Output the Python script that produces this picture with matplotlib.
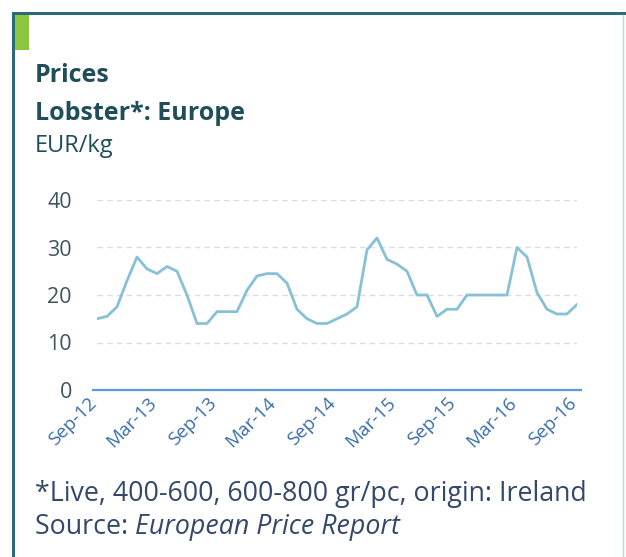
import matplotlib
matplotlib.use("Agg")
import matplotlib.pyplot as plt
import matplotlib.transforms as mtransforms
from matplotlib.patches import Rectangle
from matplotlib.lines import Line2D

# Monthly lobster prices, EUR/kg, Sep-12 .. Sep-16
months = ["Sep-12", "Oct-12", "Nov-12", "Dec-12", "Jan-13", "Feb-13", "Mar-13", "Apr-13",
          "May-13", "Jun-13", "Jul-13", "Aug-13", "Sep-13", "Oct-13", "Nov-13", "Dec-13",
          "Jan-14", "Feb-14", "Mar-14", "Apr-14", "May-14", "Jun-14", "Jul-14", "Aug-14",
          "Sep-14", "Oct-14", "Nov-14", "Dec-14", "Jan-15", "Feb-15", "Mar-15", "Apr-15",
          "May-15", "Jun-15", "Jul-15", "Aug-15", "Sep-15", "Oct-15", "Nov-15", "Dec-15",
          "Jan-16", "Feb-16", "Mar-16", "Apr-16", "May-16", "Jun-16", "Jul-16", "Aug-16",
          "Sep-16"]
prices = [15, 15.5, 17.5, 23, 28, 25.5, 24.5, 26, 25, 20, 14, 14,
          16.5, 16.5, 16.5, 21, 24, 24.5, 24.5, 22.5, 17, 15, 14, 14,
          15, 16, 17.5, 29.5, 32, 27.5, 26.5, 25, 20, 20, 15.5, 17,
          17, 20, 20, 20, 20, 20, 30, 28, 20.5, 17, 16, 16,
          18]
tick_labels = ["Sep-12", "Mar-13", "Sep-13", "Mar-14", "Sep-14",
               "Mar-15", "Sep-15", "Mar-16", "Sep-16"]
y_ticks = [0, 10, 20, 30, 40]

FONT = ["Open Sans", "DejaVu Sans"]
plt.rcParams["font.family"] = FONT

W, H = 626, 557
fig = plt.figure(figsize=(W / 100, H / 100), dpi=100)
fig.patch.set_facecolor("white")

# Panel frame: thick teal left/top edges, thin light right edge, green tab
frame_col = "#2b6a78"
fig.add_artist(Rectangle((12 / W, 0), 3 / W, (H - 12) / H, transform=fig.transFigure,
                         color=frame_col, lw=0))
fig.add_artist(Rectangle((12 / W, (H - 15) / H), (W - 12) / W, 3 / H, transform=fig.transFigure,
                         color=frame_col, lw=0))
fig.add_artist(Line2D([623 / W, 623 / W], [0, (H - 15) / H], transform=fig.transFigure,
                      color="#b9dbe0", lw=1))
fig.add_artist(Rectangle((15 / W, (H - 50) / H), 14 / W, 35 / H, transform=fig.transFigure,
                         color="#8cc63f", lw=0))

# Titles
title_col = "#1f4e5a"
fig.text(35 / W, 1 - 76 / H, "Prices", fontsize=18, fontweight="bold",
         color=title_col, va="center", ha="left")
fig.text(35 / W, 1 - 113 / H, "Lobster*: Europe", fontsize=18, fontweight="bold",
         color=title_col, va="center", ha="left")
fig.text(35 / W, 1 - 146 / H, "EUR/kg", fontsize=17, color=title_col,
         va="center", ha="left")

# Plot area
x0, x1 = 97, 577
y_top, y_bot = 200, 390
ax = fig.add_axes([x0 / W, 1 - y_bot / H, (x1 - x0) / W, (y_bot - y_top) / H])
ax.set_facecolor("none")
ax.set_xlim(0, len(months) - 1)
ax.set_ylim(0, 40)

xs = list(range(len(months)))
for y in y_ticks[1:]:
    ax.axhline(y, color="#dcdcdc", lw=1, ls=(0, (4, 3)), zorder=1)
ax.plot([-0.5, len(months) - 0.5], [0, 0], color="#5b9bd5", lw=1.6, zorder=2,
        clip_on=False, solid_capstyle="butt")
ax.plot(xs, prices, color="#86c1d8", lw=2.0, zorder=3, solid_joinstyle="round")

for s in ax.spines.values():
    s.set_visible(False)

ax.set_yticks(y_ticks)
ax.set_yticklabels([str(v) for v in y_ticks])
ax.tick_params(axis="y", length=0, pad=18, labelsize=15.5, labelcolor="#3e5560")

tick_pos = [months.index(m) for m in tick_labels]
ax.set_xticks(tick_pos)
ax.set_xticklabels(tick_labels, rotation=45, ha="right", rotation_mode="anchor")
ax.tick_params(axis="x", length=0, pad=3, labelsize=13.5, labelcolor="#3a6ea8")
shift = mtransforms.ScaledTranslation(-10 / 100, 0, fig.dpi_scale_trans)
for lab in ax.get_xticklabels():
    lab.set_transform(lab.get_transform() + shift)

# Footnotes
foot_col = "#34486a"
fig.text(35 / W, 1 - 494 / H, "*Live, 400-600, 600-800 gr/pc, origin: Ireland",
         fontsize=19.3, color=foot_col, va="center", ha="left")
fig.text(35 / W, 1 - 527 / H, "Source: ", fontsize=19.3, color=foot_col,
         va="center", ha="left")
src = fig.texts[-1]
fig.canvas.draw()
bb = src.get_window_extent()
fig.text(bb.x1 / W, 1 - 527 / H, "European Price Report", fontsize=19.3,
         fontstyle="italic", color=foot_col, va="center", ha="left")

fig.savefig("out.png", dpi=100, facecolor="white")
